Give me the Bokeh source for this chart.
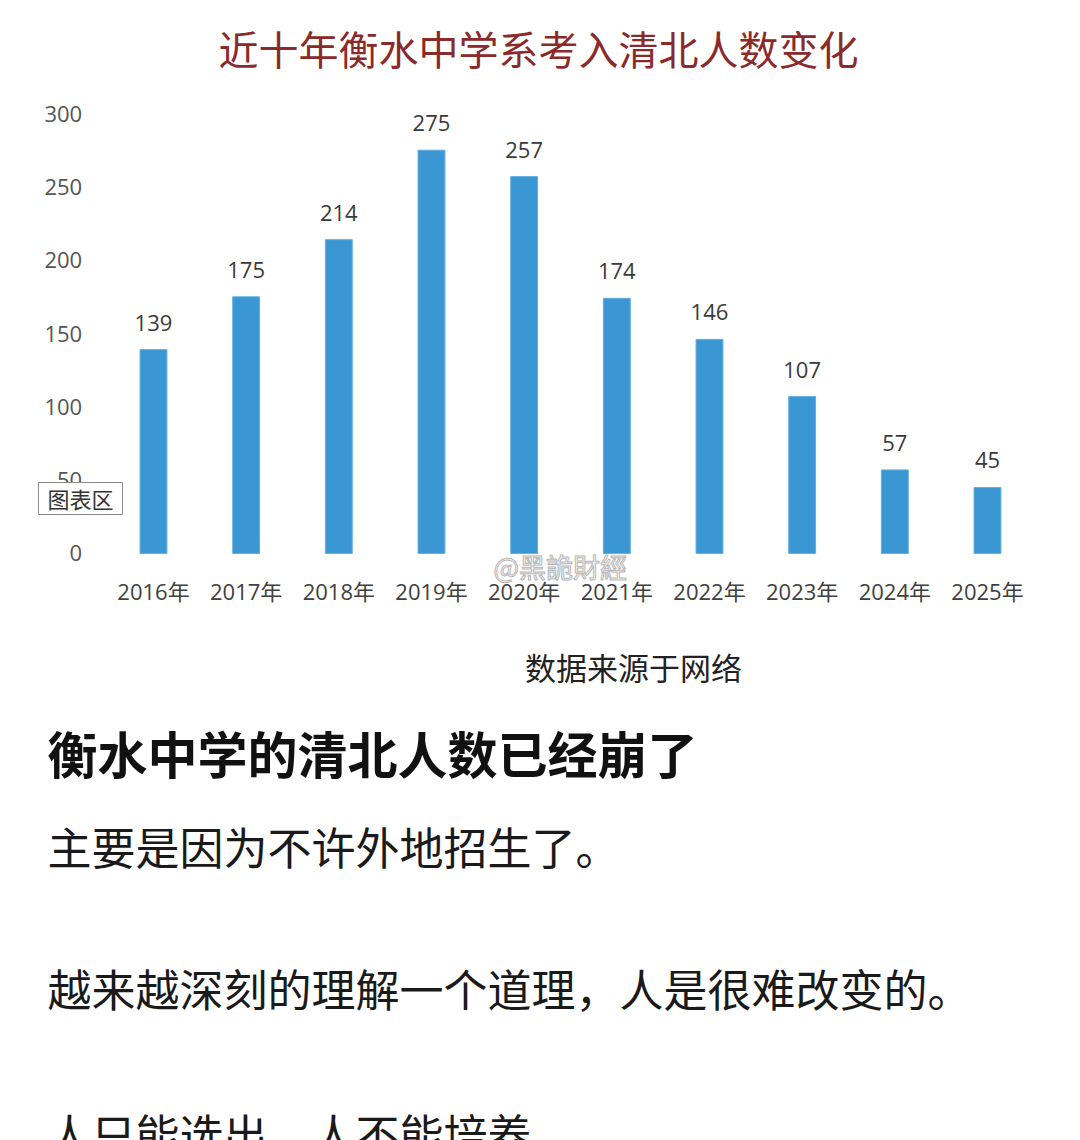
from bokeh.plotting import figure
from bokeh.layouts import column
from bokeh.models import ColumnDataSource, Range1d, FixedTicker, Label
from bokeh.core.properties import value
from bokeh.embed import file_html
from bokeh.resources import INLINE

# ---- data ----
years = ["2016年", "2017年", "2018年", "2019年", "2020年",
         "2021年", "2022年", "2023年", "2024年", "2025年"]
counts = [139, 175, 214, 275, 257, 174, 146, 107, 57, 45]
y_ticks = [0, 50, 100, 150, 200, 250, 300]

title_text = "近十年衡水中学系考入清北人数变化"
source_text = "数据来源于网络"
heading_text = "衡水中学的清北人数已经崩了"
body_lines = ["主要是因为不许外地招生了。",
              "越来越深刻的理解一个道理，人是很难改变的。",
              "人只能选出，人不能培养"]
chart_area_tip = "图表区"
watermark = "@黑詭財經"

W = 1064
CJK = "Noto Sans CJK SC"
NUM = "Open Sans, Noto Sans CJK SC"


def blank(fig):
    fig.grid.visible = False
    fig.outline_line_color = None
    fig.background_fill_color = "white"
    fig.border_fill_color = "white"


# ---- title figure ----
H1 = 90
t = figure(width=W, height=H1, x_range=Range1d(0, W), y_range=Range1d(H1, 0),
           x_axis_location=None, y_axis_location=None, toolbar_location=None,
           output_backend="svg", min_border=0, frame_align=False)
blank(t)
t.text(x=[538], y=[47], text=[title_text], text_font=value(CJK),
       text_font_size="40px", text_color="#8a2a2a",
       text_align="center", text_baseline="middle")

# ---- chart figure ----
idx = list(range(len(years)))
src = ColumnDataSource(dict(x=idx, count=counts, label=[str(c) for c in counts]))
p = figure(width=W, height=530, x_range=Range1d(-1.651, 9.831),
           y_range=Range1d(-45.7, 315.7), toolbar_location=None,
           output_backend="svg", min_border=0, frame_align=False)
blank(p)
p.vbar(x="x", top="count", width=0.29, source=src,
       fill_color="#3b97d3", line_color="#62aede", line_width=1)
p.text(x="x", y="count", text="label", source=src,
       text_font=value(NUM), text_font_size="22px", text_color="#3a3a3a",
       text_align="center", text_baseline="middle", y_offset=-27)
for ax in (p.xaxis[0], p.yaxis[0]):
    ax.axis_line_color = None
    ax.major_tick_line_color = None
    ax.minor_tick_line_color = None
    ax.major_tick_out = 0
    ax.major_tick_in = 0
    ax.major_label_text_font = NUM
    ax.major_label_text_font_size = "22px"
    ax.major_label_standoff = 25
p.yaxis[0].ticker = FixedTicker(ticks=y_ticks)
p.yaxis[0].fixed_location = -0.5
p.yaxis[0].major_label_text_color = "#555555"
p.xaxis[0].ticker = FixedTicker(ticks=idx)
p.xaxis[0].major_label_overrides = {i: years[i] for i in idx}
p.xaxis[0].fixed_location = 0
p.xaxis[0].major_label_text_color = "#404040"
p.xaxis[0].major_label_standoff = 23

p.add_layout(Label(x=-0.788, y=37.5, text=chart_area_tip, text_font=CJK,
                   text_font_size="22px", text_color="#333333",
                   text_align="center", text_baseline="middle",
                   background_fill_color="white", border_line_color="#8a8a8a",
                   padding=dict(left=9, right=9, top=0, bottom=0)))
p.add_layout(Label(x=4.39, y=-8.9, text=watermark, text_font=CJK,
                   text_font_size="27px", text_color="white",
                   text_outline_color="#b5b5b5",
                   text_align="center", text_baseline="middle"))

# ---- text figure ----
H3 = 520
b = figure(width=W, height=H3, x_range=Range1d(0, W), y_range=Range1d(H3, 0),
           x_axis_location=None, y_axis_location=None, toolbar_location=None,
           output_backend="svg", min_border=0, frame_align=False)
blank(b)
b.text(x=[633], y=[46], text=[source_text], text_font=value(CJK),
       text_font_size="31px", text_color="#222222",
       text_align="center", text_baseline="middle")
b.text(x=[47], y=[131], text=[heading_text], text_font=value(CJK),
       text_font_size="50px", text_font_style="bold", text_color="#111111",
       text_align="left", text_baseline="middle")
b.text(x=[47, 47, 47], y=[225, 367, 512], text=body_lines, text_font=value(CJK),
       text_font_size="44px", text_color="#1a1a1a",
       text_align="left", text_baseline="middle")

layout = column(t, p, b, spacing=0)
open("out.html", "w").write(file_html(layout, INLINE))
